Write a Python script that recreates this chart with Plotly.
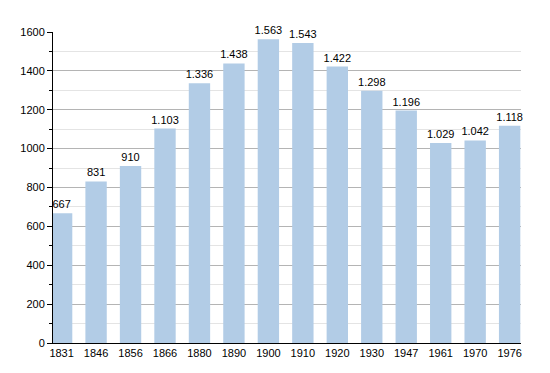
import plotly.graph_objects as go

years = ["1831", "1846", "1856", "1866", "1880", "1890", "1900", "1910", "1920", "1930", "1947", "1961", "1970", "1976"]
population = [667, 831, 910, 1103, 1336, 1438, 1563, 1543, 1422, 1298, 1196, 1029, 1042, 1118]
labels = [f"{v:,}".replace(",", ".") for v in population]

fig = go.Figure(go.Bar(
    x=years, y=population, text=labels, textposition="outside",
    textfont=dict(size=11, color="#000000", family="Liberation Sans, Arial, sans-serif"),
    constraintext="none",
    marker=dict(color="#b2cce6", line=dict(width=0)),
    cliponaxis=False,
))

fig.update_layout(
    width=542, height=365,
    margin=dict(l=43, r=29, t=24, b=30),
    paper_bgcolor="white", plot_bgcolor="white",
    bargap=0.38, showlegend=False,
    font=dict(family="Liberation Sans, Arial, sans-serif", size=11, color="#000000"),
    xaxis=dict(type="category", range=[-0.25, 13.33], showline=True, linecolor="#000000",
               linewidth=1, ticks="", showgrid=False, tickfont=dict(size=11)),
    yaxis=dict(range=[0, 1600], dtick=200, showline=True, linecolor="#000000", linewidth=1,
               ticks="outside", ticklen=5, tickcolor="#000000", showgrid=True,
               gridcolor="#b4b4b4", gridwidth=1, zeroline=False, tickfont=dict(size=11),
               minor=dict(dtick=100, showgrid=True, gridcolor="#e4e4e4", ticks="outside",
                          ticklen=3, tickcolor="#000000")),
)

fig.write_html("out.html")
